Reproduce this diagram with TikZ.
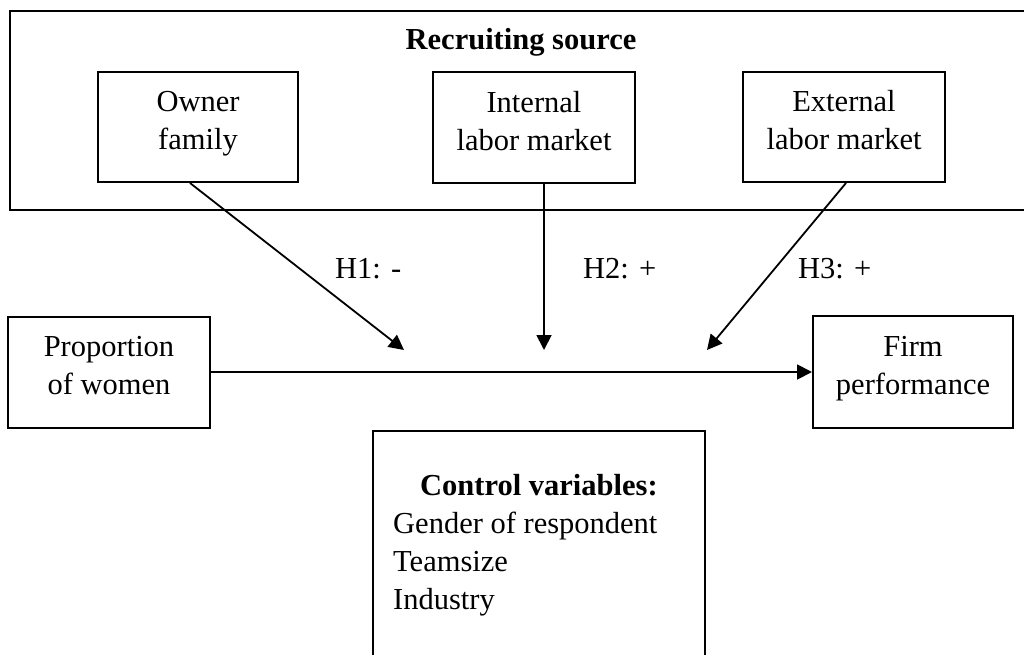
\documentclass[tikz,border=0pt]{standalone}
\usepackage{fontspec}
\setmainfont{Liberation Serif}
\usetikzlibrary{arrows.meta}
\newcommand\lnst{\rule[-14pt]{0pt}{35pt}}
\begin{document}
\begin{tikzpicture}[x=1pt,y=-1pt,
  txt/.style={font=\fontsize{30.5}{38}\selectfont, inner sep=0pt},
  boxnode/.style={draw, line width=2pt, align=center, txt},
  arr/.style={line width=1.8pt, -{Triangle[length=15pt,width=15pt]}}]
\clip (0,0) rectangle (1024,654);
\fill[white] (0,0) rectangle (1024,654);
% group box (right side and control-box bottom cut off by the page)
\draw[line width=2pt] (1040,11) -- (10,11) -- (10,210) -- (1040,210);
\node[txt, anchor=base, font=\fontsize{30.5}{38}\selectfont\bfseries] (rs) at (521,49) {Recruiting source};
\node[boxnode, minimum width=200pt, minimum height=110pt] (owner) at (198,127) {\lnst Owner\\\lnst family};
\node[boxnode, minimum width=202pt, minimum height=111pt] (internal) at (534,127.5) {\lnst Internal\\\lnst labor market};
\node[boxnode, minimum width=202pt, minimum height=110pt] (external) at (844,127) {\lnst External\\\lnst labor market};
\node[boxnode, minimum width=202pt, minimum height=111pt] (prop) at (109,372) {\lnst Proportion\\\lnst of women};
\node[boxnode, minimum width=200pt, minimum height=112pt] (firm) at (913,372) {\lnst Firm\\\lnst performance};
\node[draw, line width=2pt, minimum width=332pt, minimum height=240pt, inner sep=0pt] (ctrl) at (539,551) {};
\node[txt, align=left, anchor=west] (ctext) at (393,545) {\hspace{27pt}\textbf{Control variables:}\\Gender of respondent\\Teamsize\\Industry};
\coordinate (t1) at (404,350);
\coordinate (t2) at (544,350);
\coordinate (t3) at (707,350);
\draw[arr] ([xshift=-8pt]owner.south) -- (t1);
\draw[arr] ([xshift=10pt]internal.south) -- (t2);
\draw[arr] ([xshift=2pt]external.south) -- (t3);
\draw[arr] (prop.east) -- (firm.west);
\node[txt, anchor=base west] (h1) at (335,278) {H1: -};
\node[txt, anchor=base west] (h2) at (583,278) {H2: +};
\node[txt, anchor=base west] (h3) at (798,278) {H3: +};
\end{tikzpicture}
\end{document}
